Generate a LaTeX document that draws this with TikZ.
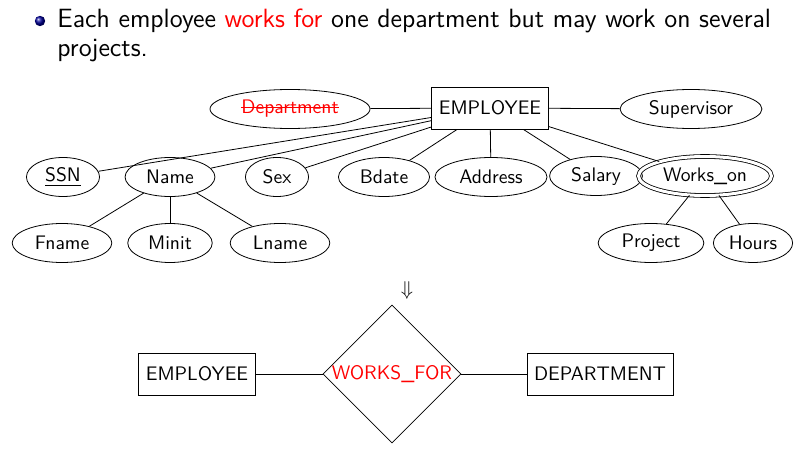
\documentclass[tikz,border=0pt]{standalone}
\usetikzlibrary{shapes.geometric,positioning}
\renewcommand{\familydefault}{\sfdefault}
\newcommand{\strikeout}[1]{\setbox0\hbox{#1}\rlap{\rule[0.28em]{\wd0}{0.5pt}}\box0}

\begin{document}
\begin{tikzpicture}[x=0.5pt,y=-0.5pt,
  font=\fontsize{9.8}{12}\selectfont,
  attr/.style={draw,ellipse,inner xsep=4pt,inner ysep=1pt,minimum height=19.5pt},
  ent/.style={draw,rectangle,inner xsep=3.5pt,minimum height=21pt},
  rel/.style={draw,diamond,aspect=1,inner sep=0pt,minimum size=69pt,text=red},
  title/.style={anchor=base west,inner sep=0pt,font=\fontsize{13.2}{16}\selectfont}]
\useasboundingbox (0,0) rectangle (803,449);

% bullet point
\shade[ball color=blue!60!black] (40,21) circle[radius=2.6pt];
\node[title] (line1) at (57,28)
    {Each employee \textcolor{red}{works for} one department but may work on several};
\node[title] (line2) at (57,57) {projects.};

% attributes of EMPLOYEE
\node[ent] (emp) at (490,108) {EMPLOYEE};
\node[attr,text=red] (dept) at (290,109) {\strikeout{Department}};
\node[attr] (super) at (691,109) {Supervisor};
\node[attr] (ssn) at (63,177) {\underline{SSN}};
\node[attr] (name) at (170,177) {Name};
\node[attr] (sex) at (277,177) {Sex};
\node[attr] (bdate) at (384,177) {Bdate};
\node[attr] (addr) at (491,177) {Address};
\node[attr] (salary) at (596,176) {Salary};
\node[attr,double,double distance=1.5pt,inner xsep=2.5pt] (works) at (705,176) {Works\_on};
\node[attr] (fname) at (62,243) {Fname};
\node[attr] (minit) at (170,243) {Minit};
\node[attr] (lname) at (280,243) {Lname};
\node[attr] (proj) at (651,243) {Project};
\node[attr,inner xsep=2pt] (hours) at (753,243) {Hours};

\draw (emp) -- (dept);
\draw (emp) -- (super);
\foreach \a in {ssn,name,sex,bdate,addr,salary,works}
  \draw (emp) -- (\a);
\foreach \a in {fname,minit,lname}
  \draw (name) -- (\a);
\draw (works) -- (proj);
\draw (works) -- (hours);

% the relationship
\node (arrow) at (407,290) {$\Downarrow$};
\node[ent] (emp2) at (197,374) {EMPLOYEE};
\node[rel] (wf) at (392,374) {\makebox[50pt]{WORKS\_FOR}};
\node[ent] (dep2) at (600,374) {DEPARTMENT};
\draw (emp2) -- (wf) -- (dep2);

\end{tikzpicture}
\end{document}
